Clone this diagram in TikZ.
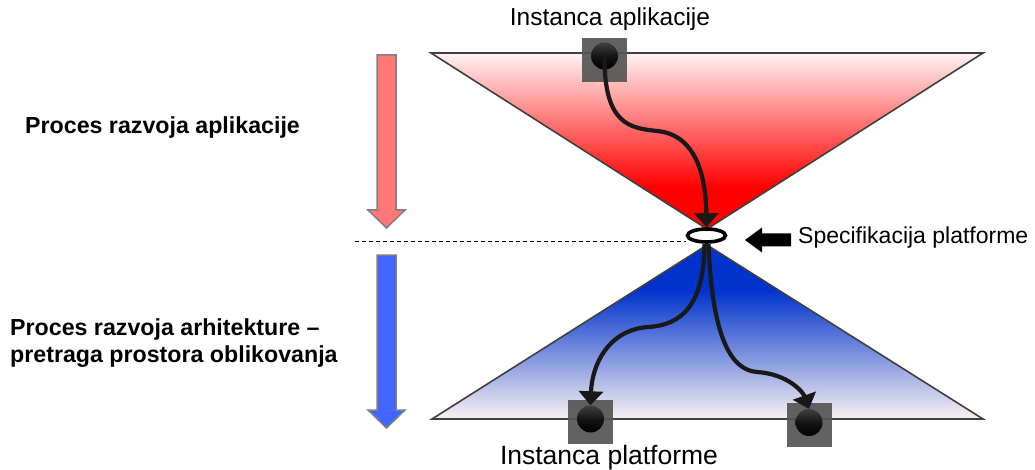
\documentclass[tikz,border=0pt]{standalone}
\usepackage{fontspec}
\setmainfont{Liberation Sans}
\usetikzlibrary{arrows.meta,shapes.geometric}
\definecolor{pinkish}{RGB}{255,242,242}
\definecolor{tred}{RGB}{255,0,0}
\definecolor{tblue}{RGB}{0,51,204}
\definecolor{paleb}{RGB}{250,242,242}
\definecolor{arrred}{RGB}{255,119,119}
\definecolor{arrblue}{RGB}{64,102,255}
\definecolor{edgegray}{RGB}{64,64,64}
\definecolor{sqgray}{RGB}{85,85,85}
\pgfdeclareverticalshading{redshade}{100bp}{color(0bp)=(tred); color(37bp)=(tred); color(75bp)=(pinkish); color(100bp)=(pinkish)}
\pgfdeclareverticalshading{blueshade}{100bp}{color(0bp)=(paleb); color(25bp)=(paleb); color(62bp)=(tblue); color(100bp)=(tblue)}
\tikzset{
  tri/.style={draw=edgegray, line width=1.6pt, line join=miter},
  sqbox/.style={rectangle, fill=sqgray, fill opacity=0.92, minimum width=45pt, minimum height=44pt, inner sep=0pt},
  ball/.style={circle, minimum size=27pt, inner sep=0pt, top color=black!75, bottom color=black, middle color=black!92},
  flow/.style={line width=4.2pt, black!90, -{Triangle[length=14pt,width=24pt]}},
  bigarrow/.style={draw=black!50, line width=1.5pt, line join=miter},
  boldlabel/.style={font=\fontsize{23.2}{27}\selectfont\bfseries, inner sep=0pt},
  lbl/.style={font=\fontsize{23}{27}\selectfont, inner sep=0pt},
}
\begin{document}
\begin{tikzpicture}[x=1pt,y=-1pt]
\useasboundingbox (0,0) rectangle (1035,470);
% triangles
\draw[tri, shading=redshade] (431,53) -- (983,53) -- (707,229) -- cycle;
\draw[tri, shading=blueshade] (707,245) -- (983,419) -- (432,419) -- cycle;
% side arrows
\draw[bigarrow, fill=arrred] (377,55) -- (396,55) -- (396,210) -- (405,210) -- (386.5,228) -- (368,210) -- (377,210) -- cycle;
\draw[bigarrow, fill=arrblue] (377,255) -- (396,255) -- (396,410) -- (405,410) -- (386.5,428) -- (368,410) -- (377,410) -- cycle;
% squares and balls
\node[sqbox] (s1) at (604.5,60) {};
\node[sqbox] (s2) at (590.5,421.5) {};
\node[sqbox] (s3) at (809,425) {};
\node[ball] (c1) at (604.5,56) {};
\node[ball] (c2) at (590.5,419) {};
\node[ball] (c3) at (809,422.5) {};
% ellipse
\node[ellipse, draw=black, line width=3.6pt, fill=white, minimum width=38pt, minimum height=13pt, inner sep=0pt] (e) at (706.5,235.5) {};
% dashed line
\coordinate (dl) at (355,241.5);
\draw[dashed, dash pattern=on 4pt off 3pt, line width=0.8pt] (dl) -- (dl -| e.west);
% flows
\draw[flow] (c1.center) .. controls (604,125) and (630,128) .. (657,131) .. controls (700,135) and (706,185) .. (e.north);
\draw[flow] ([xshift=-2pt]e.south) .. controls (704,305) and (682,325) .. (648,327) .. controls (608,330) and (592,365) .. (c2.north);
\draw[flow] ([xshift=2pt]e.south) .. controls (712,335) and (730,370) .. (757,372) .. controls (788,374) and (803,392) .. (c3.north);
% black arrow
\fill[black] (745,240) -- (762,227.5) -- (762,233.5) -- (791,233.5) -- (791,246.5) -- (762,246.5) -- (762,252.5) -- cycle;
% labels
\node[boldlabel, anchor=west] (t1) at (25,128) {Proces razvoja aplikacije};
\node[boldlabel, anchor=west, align=left] (t2) at (10,343) {Proces razvoja arhitekture –\\pretraga prostora oblikovanja};
\node[lbl, font=\fontsize{24.5}{28}\selectfont] (t3) at (610,19) {Instanca aplikacije};
\node[lbl, font=\fontsize{26.5}{30}\selectfont] (t4) at (609,458) {Instanca platforme};
\node[lbl, anchor=west] (t5) at (798,238) {Specifikacija platforme};
\end{tikzpicture}
\end{document}
